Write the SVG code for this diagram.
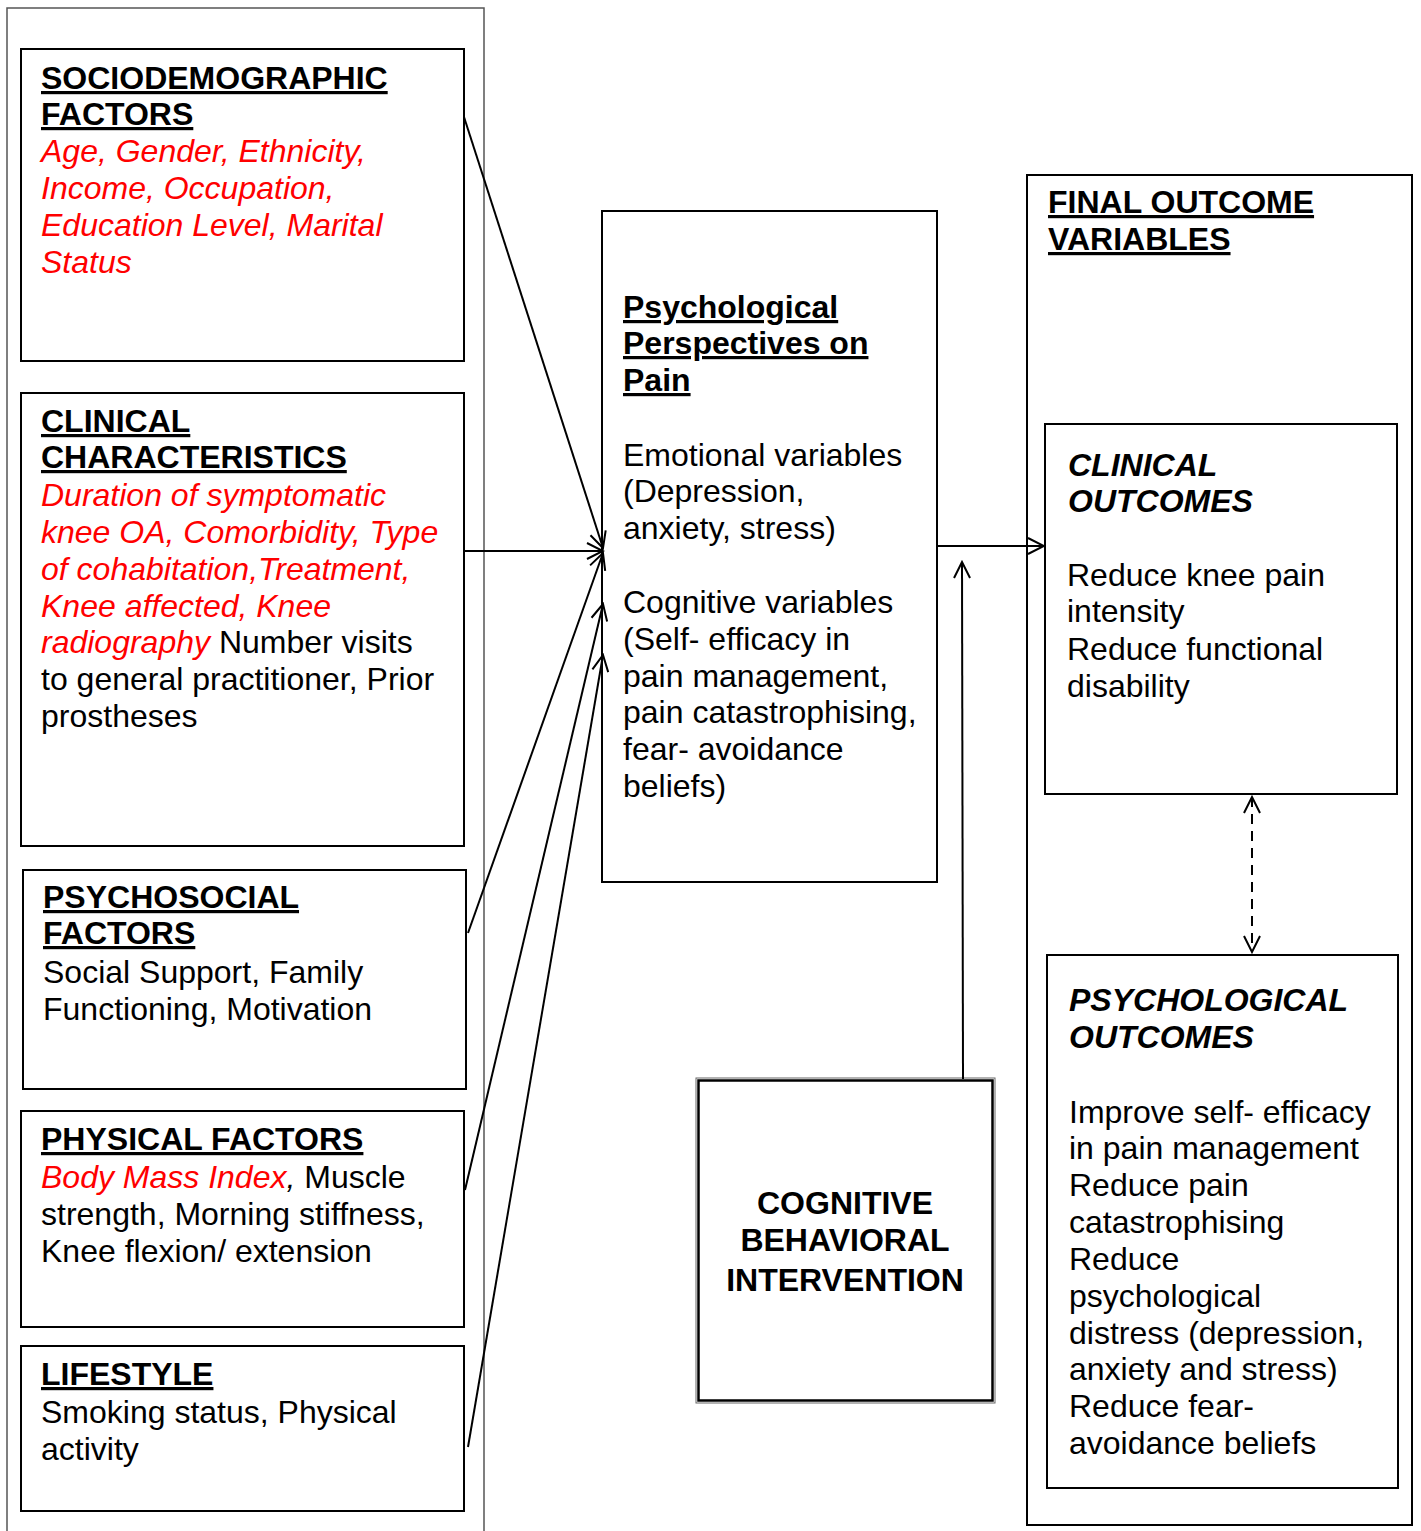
<svg xmlns="http://www.w3.org/2000/svg" width="1421" height="1531" viewBox="0 0 1421 1531">
<defs>
<style>
text{font-family:"Liberation Sans",Arial,sans-serif;font-size:32px;fill:#000}
.h{font-weight:bold;text-decoration:underline}
.hi{font-weight:bold;font-style:italic}
.b{font-weight:bold}
.r{fill:#ff0000;font-style:italic}
.box{fill:#fff;stroke:#000;stroke-width:2}
.thin{fill:none;stroke:#555;stroke-width:1.5}
.ln{stroke:#000;stroke-width:2;fill:none}
</style>
<marker id="ah" markerWidth="20" markerHeight="20" refX="18" refY="10" orient="auto" markerUnits="userSpaceOnUse">
<path d="M2,2 L18,10 L2,18" fill="none" stroke="#000" stroke-width="2"/>
</marker>
<marker id="ahs" markerWidth="20" markerHeight="20" refX="18" refY="10" orient="auto-start-reverse" markerUnits="userSpaceOnUse">
<path d="M2,2 L18,10 L2,18" fill="none" stroke="#000" stroke-width="2"/>
</marker>
</defs>
<rect width="1421" height="1531" fill="#fff"/>
<path class="thin" d="M7,1531 L7,8 L484,8 L484,1531"/>
<g id="socio">
<rect class="box" x="21" y="49" width="443" height="312"/>
<text x="41" y="89" class="h">SOCIODEMOGRAPHIC</text>
<text x="41" y="125" class="h">FACTORS</text>
<text x="41" y="162" class="r">Age, Gender, Ethnicity,</text>
<text x="41" y="199" class="r">Income, Occupation,</text>
<text x="41" y="236" class="r">Education Level, Marital</text>
<text x="41" y="273" class="r">Status</text>
</g>
<g id="clinical">
<rect class="box" x="21" y="393" width="443" height="453"/>
<text x="41" y="432" class="h">CLINICAL</text>
<text x="41" y="468" class="h">CHARACTERISTICS</text>
<text x="41" y="506" class="r">Duration of symptomatic</text>
<text x="41" y="543" class="r">knee OA, Comorbidity, Type</text>
<text x="41" y="580" class="r">of cohabitation,Treatment,</text>
<text x="41" y="617" class="r">Knee affected, Knee</text>
<text x="41" y="653"><tspan class="r">radiography</tspan> Number visits</text>
<text x="41" y="690">to general practitioner, Prior</text>
<text x="41" y="727">prostheses</text>
</g>
<g id="psychosocial">
<rect class="box" x="23" y="870" width="443" height="219"/>
<text x="43" y="908" class="h">PSYCHOSOCIAL</text>
<text x="43" y="944" class="h">FACTORS</text>
<text x="43" y="983">Social Support, Family</text>
<text x="43" y="1020">Functioning, Motivation</text>
</g>
<g id="physical">
<rect class="box" x="21" y="1111" width="443" height="216"/>
<text x="41" y="1150" class="h">PHYSICAL FACTORS</text>
<text x="41" y="1188"><tspan class="r">Body Mass Index</tspan><tspan font-style="italic">,</tspan> Muscle</text>
<text x="41" y="1225">strength, Morning stiffness,</text>
<text x="41" y="1262">Knee flexion/ extension</text>
</g>
<g id="lifestyle">
<rect class="box" x="21" y="1346" width="443" height="165"/>
<text x="41" y="1385" class="h">LIFESTYLE</text>
<text x="41" y="1423">Smoking status, Physical</text>
<text x="41" y="1460">activity</text>
</g>
<g id="psych">
<rect class="box" x="602" y="211" width="335" height="671"/>
<text x="623" y="318" class="h">Psychological</text>
<text x="623" y="354" class="h">Perspectives on</text>
<text x="623" y="391" class="h">Pain</text>
<text x="623" y="466">Emotional variables</text>
<text x="623" y="502">(Depression,</text>
<text x="623" y="539">anxiety, stress)</text>
<text x="623" y="613">Cognitive variables</text>
<text x="623" y="650">(Self- efficacy in</text>
<text x="623" y="687">pain management,</text>
<text x="623" y="723">pain catastrophising,</text>
<text x="623" y="760">fear- avoidance</text>
<text x="623" y="797">beliefs)</text>
</g>
<g id="cbt">
<rect x="696" y="1078" width="299" height="325" fill="#fff" stroke="#666" stroke-width="1"/>
<rect x="698.5" y="1080.5" width="294" height="320" fill="none" stroke="#000" stroke-width="2.5"/>
<text x="845" y="1214" class="b" text-anchor="middle">COGNITIVE</text>
<text x="845" y="1251" class="b" text-anchor="middle">BEHAVIORAL</text>
<text x="845" y="1291" class="b" text-anchor="middle">INTERVENTION</text>
</g>
<g id="final">
<rect class="box" x="1027" y="175" width="385" height="1350"/>
<text x="1048" y="213" class="h">FINAL OUTCOME</text>
<text x="1048" y="250" class="h">VARIABLES</text>
</g>
<g id="clinout">
<rect class="box" x="1045" y="424" width="352" height="370"/>
<text x="1068" y="476" class="hi">CLINICAL</text>
<text x="1068" y="512" class="hi">OUTCOMES</text>
<text x="1067" y="586">Reduce knee pain</text>
<text x="1067" y="622">intensity</text>
<text x="1067" y="660">Reduce functional</text>
<text x="1067" y="697">disability</text>
</g>
<g id="psychout">
<rect class="box" x="1047" y="955" width="351" height="533"/>
<text x="1069" y="1011" class="hi">PSYCHOLOGICAL</text>
<text x="1069" y="1048" class="hi">OUTCOMES</text>
<text x="1069" y="1123">Improve self- efficacy</text>
<text x="1069" y="1159">in pain management</text>
<text x="1069" y="1196">Reduce pain</text>
<text x="1069" y="1233">catastrophising</text>
<text x="1069" y="1270">Reduce</text>
<text x="1069" y="1307">psychological</text>
<text x="1069" y="1344">distress (depression,</text>
<text x="1069" y="1380">anxiety and stress)</text>
<text x="1069" y="1417">Reduce fear-</text>
<text x="1069" y="1454">avoidance beliefs</text>
</g>
<g id="connectors">
<line class="ln" x1="464" y1="117" x2="603" y2="548" marker-end="url(#ah)"/>
<line class="ln" x1="464" y1="551" x2="603" y2="551" marker-end="url(#ah)"/>
<line class="ln" x1="468" y1="933" x2="603" y2="553" marker-end="url(#ah)"/>
<line class="ln" x1="465" y1="1190" x2="603" y2="604" marker-end="url(#ah)"/>
<line class="ln" x1="468" y1="1447" x2="603" y2="655" marker-end="url(#ah)"/>
<line class="ln" x1="937" y1="546" x2="1044" y2="546" marker-end="url(#ah)"/>
<line class="ln" x1="963" y1="1079" x2="962" y2="562" marker-end="url(#ah)"/>
<line class="ln" x1="1252" y1="797" x2="1252" y2="952" stroke-dasharray="10,7" marker-start="url(#ahs)" marker-end="url(#ah)"/>
</g>
</svg>
